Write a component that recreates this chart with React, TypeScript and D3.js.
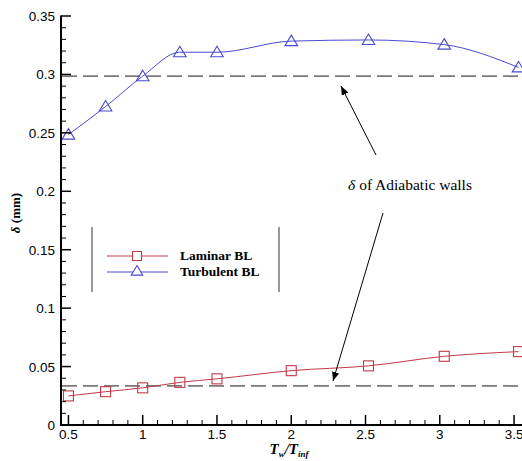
import React from "react";
import * as d3 from "d3";

const turbX = [0.5, 0.75, 1.0, 1.25, 1.5, 2.0, 2.52, 3.03, 3.53];
const turbY = [0.2485, 0.2725, 0.2985, 0.319, 0.319, 0.3285, 0.3295, 0.3255, 0.306];
const lamX = [0.5, 0.75, 1.0, 1.25, 1.5, 2.0, 2.52, 3.03, 3.53];
const lamY = [0.0249, 0.0285, 0.0318, 0.0365, 0.0395, 0.0465, 0.0506, 0.0588, 0.0628];
const adiabaticTurb = 0.2985;
const adiabaticLam = 0.0334;
const xTicks = [0.5, 1, 1.5, 2, 2.5, 3, 3.5];
const yTicks = [0, 0.05, 0.1, 0.15, 0.2, 0.25, 0.3, 0.35];
const legendLabels = ["Laminar BL", "Turbulent BL"];

export default function App() {
  const W = 522, H = 461;
  const x = d3.scaleLinear().domain([0.45, 3.55]).range([61, 521.5]);
  const y = d3.scaleLinear().domain([0, 0.35]).range([425, 16]);
  const line = d3
    .line<[number, number]>()
    .x((d) => x(d[0]))
    .y((d) => y(d[1]))
    .curve(d3.curveMonotoneX);
  const turb: [number, number][] = turbX.map((v, i) => [v, turbY[i]]);
  const lam: [number, number][] = lamX.map((v, i) => [v, lamY[i]]);
  const xMinor = d3.range(0.5, 3.56, 0.1).filter((v) => Math.abs(v * 2 - Math.round(v * 2)) > 1e-6);
  const yMinor = d3.range(0.01, 0.35, 0.01).filter((v) => Math.abs(v * 20 - Math.round(v * 20)) > 1e-6);
  const red = "#c03a48";
  const blue = "#4a4ad0";
  const tri = (cx: number, cy: number, s: number) =>
    `M${cx},${cy - s} L${cx + s * 1.05},${cy + s * 0.75} L${cx - s * 1.05},${cy + s * 0.75} Z`;
  const tickFont = "Liberation Sans, Arial, sans-serif";
  const serif = "Liberation Serif, Times New Roman, serif";

  return (
    <svg width={W} height={H} style={{ position: "absolute", left: 0, top: 0, background: "#fff" }}>
      <defs>
        <marker id="ah" viewBox="0 0 10 10" refX="10" refY="5" markerWidth="9" markerHeight="9" markerUnits="userSpaceOnUse" orient="auto">
          <path d="M0,1 L10,5 L0,9 Z" fill="#000" />
        </marker>
        <clipPath id="clip">
          <rect x={61} y={0} width={W - 61} height={426} />
        </clipPath>
      </defs>
      <rect width={W} height={H} fill="#fff" />
      <g clipPath="url(#clip)">
        {[adiabaticTurb, adiabaticLam].map((v, i) => (
          <line key={i} x1={62} x2={W} y1={y(v)} y2={y(v)} stroke="#7a7a7a" strokeWidth={1.8} strokeDasharray="15 6" />
        ))}
        <path d={line(lam) || ""} fill="none" stroke={red} strokeWidth={1} />
        <path d={line(turb) || ""} fill="none" stroke={blue} strokeWidth={1} />
        {lam.map((d, i) => (
          <rect key={i} x={x(d[0]) - 5} y={y(d[1]) - 5} width={10} height={10} fill="none" stroke={red} strokeWidth={1.1} />
        ))}
        {turb.map((d, i) => (
          <path key={i} d={tri(x(d[0]), y(d[1]), 6)} fill="none" stroke={blue} strokeWidth={1.1} />
        ))}
      </g>
      <line x1={61} x2={61} y1={15.5} y2={426} stroke="#000" strokeWidth={2} />
      <line x1={60} x2={W} y1={425} y2={425} stroke="#000" strokeWidth={2} />
      {xTicks.map((t) => (
        <g key={t}>
          <line x1={x(t)} x2={x(t)} y1={425} y2={415} stroke="#000" strokeWidth={1.5} />
          <text x={x(t)} y={439} textAnchor="middle" fontFamily={tickFont} fontSize={13.5} fill="#000">
            {t}
          </text>
        </g>
      ))}
      {xMinor.map((t, i) => (
        <line key={i} x1={x(t)} x2={x(t)} y1={425} y2={420} stroke="#000" strokeWidth={1} />
      ))}
      {yTicks.map((t) => (
        <g key={t}>
          <line x1={61} x2={71} y1={y(t)} y2={y(t)} stroke="#000" strokeWidth={1.5} />
          <text x={55} y={y(t) + 5} textAnchor="end" fontFamily={tickFont} fontSize={13.5} fill="#000">
            {t}
          </text>
        </g>
      ))}
      {yMinor.map((t, i) => (
        <line key={i} x1={61} x2={66} y1={y(t)} y2={y(t)} stroke="#000" strokeWidth={1} />
      ))}
      <text transform="translate(20,213) rotate(-90)" textAnchor="middle" fontFamily={serif} fontWeight="bold" fontSize={13}>
        <tspan fontStyle="italic">δ</tspan> (mm)
      </text>
      <text x={289} y={454} textAnchor="middle" fontFamily={serif} fontWeight="bold" fontStyle="italic" fontSize={15}>
        T<tspan fontSize={9} dy={3}>w</tspan>
        <tspan dy={-3}>/T</tspan>
        <tspan fontSize={9} dy={3}>inf</tspan>
      </text>
      <line x1={92} x2={92} y1={227} y2={292} stroke="#777" strokeWidth={1.5} />
      <line x1={279} x2={279} y1={227} y2={292} stroke="#777" strokeWidth={1.5} />
      <line x1={107} x2={168} y1={256} y2={256} stroke={red} strokeWidth={1} />
      <rect x={132.5} y={251.5} width={9} height={9} fill="#fff" stroke={red} strokeWidth={1.1} />
      <line x1={107} x2={168} y1={272} y2={272} stroke={blue} strokeWidth={1} />
      <path d={tri(137, 271, 5.5)} fill="#fff" stroke={blue} strokeWidth={1.1} />
      {legendLabels.map((l, i) => (
        <text key={l} x={180} y={260 + i * 16} fontFamily={serif} fontWeight="bold" fontSize={13.5}>
          {l}
        </text>
      ))}
      <text x={410} y={190} textAnchor="middle" fontFamily={serif} fontSize={15.5}>
        <tspan fontStyle="italic">δ</tspan> of Adiabatic walls
      </text>
      <line x1={376} y1={155} x2={341} y2={86} stroke="#000" strokeWidth={1} markerEnd="url(#ah)" />
      <line x1={383} y1={213} x2={333} y2={381} stroke="#000" strokeWidth={1} markerEnd="url(#ah)" />
    </svg>
  );
}
